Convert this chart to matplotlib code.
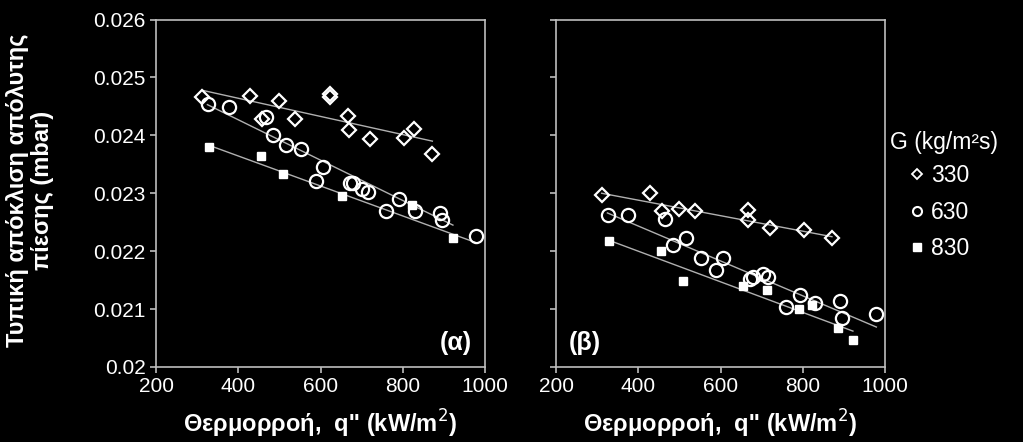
import matplotlib
matplotlib.use("Agg")
import matplotlib.pyplot as plt
from matplotlib.lines import Line2D

plt.rcParams["font.family"] = ["Liberation Sans", "DejaVu Sans"]

# panel (a)
q330_a = [311, 429, 457, 499, 538, 623, 623, 667, 669, 720, 803, 828, 872]
s330_a = [0.02466, 0.02468, 0.02428, 0.02459, 0.02429, 0.02472, 0.02466,
          0.02434, 0.02409, 0.02393, 0.02395, 0.02411, 0.02367]
q630_a = [326, 377, 467, 484, 517, 553, 588, 607, 671, 679, 701, 716,
          759, 791, 829, 890, 896, 978]
s630_a = [0.02454, 0.02449, 0.02432, 0.02400, 0.02383, 0.02376, 0.02321,
          0.02345, 0.02317, 0.02318, 0.02307, 0.02302, 0.02270, 0.02290,
          0.02270, 0.02266, 0.02253, 0.02227]
q830_a = [328, 455, 509, 652, 822, 922]
s830_a = [0.02379, 0.02365, 0.02333, 0.02296, 0.02279, 0.02223]

# panel (b)
q330_b = [311, 429, 457, 498, 539, 667, 667, 720, 803, 871]
s330_b = [0.02297, 0.02301, 0.02269, 0.02272, 0.02269, 0.02271, 0.02253,
          0.02240, 0.02236, 0.02222]
q630_b = [326, 376, 466, 484, 516, 553, 589, 607, 671, 678, 703, 716,
          760, 793, 830, 891, 895, 979]
s630_b = [0.02263, 0.02262, 0.02256, 0.02211, 0.02222, 0.02189, 0.02168,
          0.02189, 0.02152, 0.02156, 0.02160, 0.02155, 0.02103, 0.02125,
          0.02110, 0.02114, 0.02084, 0.02091]
q830_b = [328, 455, 510, 654, 712, 790, 823, 886, 922]
s830_b = [0.02217, 0.02201, 0.02148, 0.02140, 0.02133, 0.02100, 0.02107,
          0.02067, 0.02047]

# trend lines (end points)
fit_a = {
    "330": ([311, 872], [0.02478, 0.02390]),
    "630": ([325, 922], [0.02453, 0.02245]),
    "830": ([328, 977], [0.02383, 0.02215]),
}
fit_b = {
    "330": ([311, 871], [0.02300, 0.02225]),
    "630": ([325, 979], [0.02266, 0.02069]),
    "830": ([328, 922], [0.02219, 0.02062]),
}

xticks = [200, 400, 600, 800, 1000]
yticks = [0.020, 0.021, 0.022, 0.023, 0.024, 0.025, 0.026]
ytick_labels = ["0.02", "0.021", "0.022", "0.023", "0.024", "0.025", "0.026"]

W, H = 1023, 442
fig = plt.figure(figsize=(W / 100, H / 100), dpi=100, facecolor="black")
ax_a = fig.add_axes([156 / W, 1 - 367 / H, 329 / W, 347.5 / H])
ax_b = fig.add_axes([556 / W, 1 - 367 / H, 329 / W, 347.5 / H])

styles = {
    "330": dict(marker="D", ms=7, mfc="none", mec="white", mew=1.6),
    "630": dict(marker="o", ms=9.5, mfc="none", mec="white", mew=1.6),
    "830": dict(marker="s", ms=6, mfc="white", mec="white", mew=1),
}

panels = [
    (ax_a, {"330": (q330_a, s330_a), "630": (q630_a, s630_a), "830": (q830_a, s830_a)}, fit_a),
    (ax_b, {"330": (q330_b, s330_b), "630": (q630_b, s630_b), "830": (q830_b, s830_b)}, fit_b),
]

for ax, series, fits in panels:
    ax.set_facecolor("black")
    for key in ["330", "630", "830"]:
        fx, fy = fits[key]
        ax.plot(fx, fy, color="#b0b0b0", lw=1.0, zorder=2)
        x, y = series[key]
        ax.plot(x, y, ls="none", zorder=3, **styles[key])
    ax.set_xlim(200, 1000)
    ax.set_ylim(0.020, 0.026)
    ax.set_xticks(xticks)
    ax.set_yticks(yticks)
    for sp in ax.spines.values():
        sp.set_color("#bdbdbd")
        sp.set_linewidth(1.2)
    ax.tick_params(colors="#bdbdbd", labelcolor="white", labelsize=15,
                   direction="out", length=4.5, width=1.2, pad=3)
    ax.set_xlabel("Θερμορροή,  q'' (kW/m$^2$)", color="white",
                  fontsize=17, fontweight="bold", labelpad=8)

ax_a.text(0.96, 0.035, "(α)", transform=ax_a.transAxes, ha="right",
          va="bottom", color="white", fontsize=18, fontweight="bold")
ax_b.text(0.04, 0.035, "(β)", transform=ax_b.transAxes, ha="left",
          va="bottom", color="white", fontsize=18, fontweight="bold")

ax_a.set_yticklabels(ytick_labels)
ax_b.set_yticklabels([])

fig.text(30 / W, 1 - 190 / H, "Τυπική απόκλιση απόλυτης\nπίεσης (mbar)",
         rotation=90, ha="center", va="center", multialignment="center",
         color="white", fontsize=17, fontweight="bold", linespacing=1.1)

# legend: title as separate text, entries indented under it
fig.text(890 / W, 1 - 143 / H, "G (kg/m²s)", ha="left", va="center",
         color="white", fontsize=16.5)
handles = [
    Line2D([], [], ls="none", marker="D", ms=5, mfc="none", mec="white", mew=1.3),
    Line2D([], [], ls="none", marker="o", ms=6.5, mfc="none", mec="white", mew=1.5),
    Line2D([], [], ls="none", marker="s", ms=5.5, mfc="white", mec="white"),
]
leg = fig.legend(handles, ["330", "630", "830"], loc="upper left",
                 bbox_to_anchor=(901 / W, 1 - 157 / H), frameon=False,
                 fontsize=16.5, labelcolor="white", handlelength=0.8,
                 handletextpad=0.2, labelspacing=0.6, borderaxespad=0,
                 borderpad=0.3)

fig.savefig("out.png", dpi=100, facecolor="black")
